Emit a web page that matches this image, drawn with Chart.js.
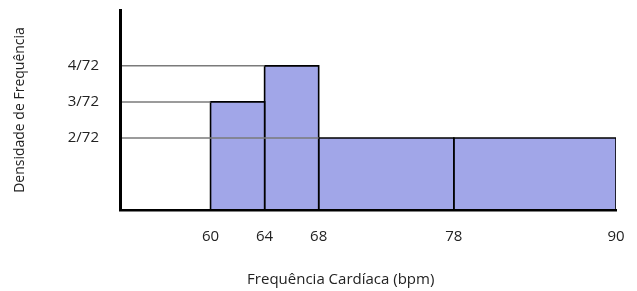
<!DOCTYPE html>
<html><head><meta charset="utf-8">
<script src="https://cdn.jsdelivr.net/npm/chart.js@4.4.1/dist/chart.umd.min.js"></script>
<style>html,body{margin:0;padding:0;background:#fff}#wrap{width:637px;height:291px}</style>
</head><body><div id="wrap"><canvas id="c" width="637" height="291"></canvas></div>
<script>
// Data
const binEdges = [60, 64, 68, 78, 90];
const densityNumerators = [3, 4, 2, 2];
const denominator = 72;
const xTickValues = [60, 64, 68, 78, 90];
const yTickNumerators = [2, 3, 4];
const guideLevels = [4, 3, 2];
const guideEnds = [64, 60, 68];
const xLabel = 'Frequência Cardíaca (bpm)';
const yLabel = 'Densidade de Frequência';

const X_MIN = 53.3, X_MAX = 90;
const FONT = 'Open Sans';

const datasets = [];
densityNumerators.forEach((n, i) => {
  const a = binEdges[i], b = binEdges[i + 1], h = n / denominator;
  datasets.push({
    data: [{x: a, y: 0}, {x: a, y: h}, {x: b, y: h}, {x: b, y: 0}],
    showLine: true, fill: 'origin', backgroundColor: '#a1a6e8',
    borderColor: '#000', borderWidth: 1.6, pointRadius: 0, tension: 0, order: 2
  });
});
guideLevels.forEach((n, i) => {
  const h = n / denominator;
  datasets.push({
    data: [{x: X_MIN, y: h}, {x: guideEnds[i], y: h}],
    showLine: true, fill: false, borderColor: '#7a7a7a', borderWidth: 1.5,
    pointRadius: 0, order: 1
  });
});

new Chart(document.getElementById('c'), {
  type: 'scatter',
  data: {datasets},
  options: {
    responsive: false, animation: false,
    layout: {padding: {top: 10, right: 21, bottom: 0, left: 0}},
    plugins: {legend: {display: false}, tooltip: {enabled: false}},
    scales: {
      x: {
        type: 'linear', min: X_MIN, max: X_MAX,
        afterBuildTicks: s => { s.ticks = xTickValues.map(v => ({value: v})); },
        afterFit: s => { s.height = 81; s.paddingLeft = 0; s.paddingRight = 0; },
        grid: {display: false, drawTicks: false},
        border: {display: true, color: '#000', width: 2.5, z: 1},
        ticks: {autoSkip: false, maxRotation: 0, padding: 18, color: '#222',
          font: {family: FONT, size: 15}, callback: v => String(v)},
        title: {display: true, text: xLabel + '\u00A0'.repeat(14), color: '#222',
          font: {family: FONT, size: 15}, padding: {top: 0, bottom: 2}}
      },
      y: {
        type: 'linear', min: 0, max: 5.55 / denominator,
        afterBuildTicks: s => { s.ticks = yTickNumerators.map(n => ({value: n / denominator})); },
        afterFit: s => { s.width = 120; s.paddingTop = 0; s.paddingBottom = 0; },
        grid: {display: false, drawTicks: false},
        border: {display: true, color: '#000', width: 3, z: 1},
        ticks: {padding: 21, color: '#222', font: {family: FONT, size: 15},
          callback: v => Math.round(v * denominator) + '/' + denominator},
        title: {display: true, text: yLabel, color: '#222',
          font: {family: FONT, size: 14}, padding: {top: 11.6, bottom: 0}}
      }
    }
  }
});
</script></body></html>
